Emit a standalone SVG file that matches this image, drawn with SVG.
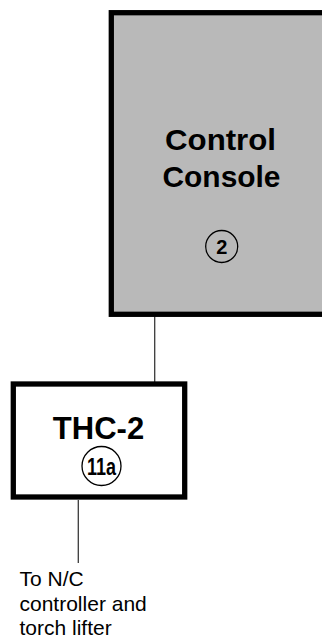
<svg xmlns="http://www.w3.org/2000/svg" width="322" height="644" viewBox="0 0 322 644">
<style>
.box{stroke:#000;stroke-width:5.3}
.bold{font-family:"Liberation Sans",Arial,sans-serif;font-weight:bold;fill:#000;text-anchor:middle}
.reg{font-family:"Liberation Sans",Arial,sans-serif;fill:#000;font-size:21px}
.tag{fill:none;stroke:#000;stroke-width:1.3}
.wire{stroke:#3a3a3a;stroke-width:1.3;fill:none}
</style>
<g id="connectors">
<line class="wire" x1="154.7" y1="316" x2="154.7" y2="382"/>
<line class="wire" x1="78.3" y1="500" x2="78.3" y2="563"/>
</g>
<g id="control-console">
<rect class="box" x="111.3" y="12.7" width="230" height="301.6" fill="#b9b9b9"/>
<text class="bold" x="220.5" y="150" font-size="30" textLength="111" lengthAdjust="spacingAndGlyphs">Control</text>
<text class="bold" x="221.5" y="187" font-size="30" textLength="118" lengthAdjust="spacingAndGlyphs">Console</text>
<circle class="tag" cx="221.7" cy="246.5" r="16"/>
<text class="bold" x="221.7" y="253.5" font-size="20">2</text>
</g>
<g id="thc-2">
<rect class="box" x="13.3" y="384" width="171.4" height="113" fill="#fff"/>
<text class="bold" x="98.5" y="439" font-size="31">THC-2</text>
<circle class="tag" cx="101.5" cy="466" r="19.5"/>
<text class="bold" x="101.5" y="474.5" font-size="23" textLength="29" lengthAdjust="spacingAndGlyphs">11a</text>
</g>
<g id="note">
<text class="reg" x="19.5" y="586">To N/C</text>
<text class="reg" x="19.5" y="610.5">controller and</text>
<text class="reg" x="19.5" y="635">torch lifter</text>
</g>
</svg>
